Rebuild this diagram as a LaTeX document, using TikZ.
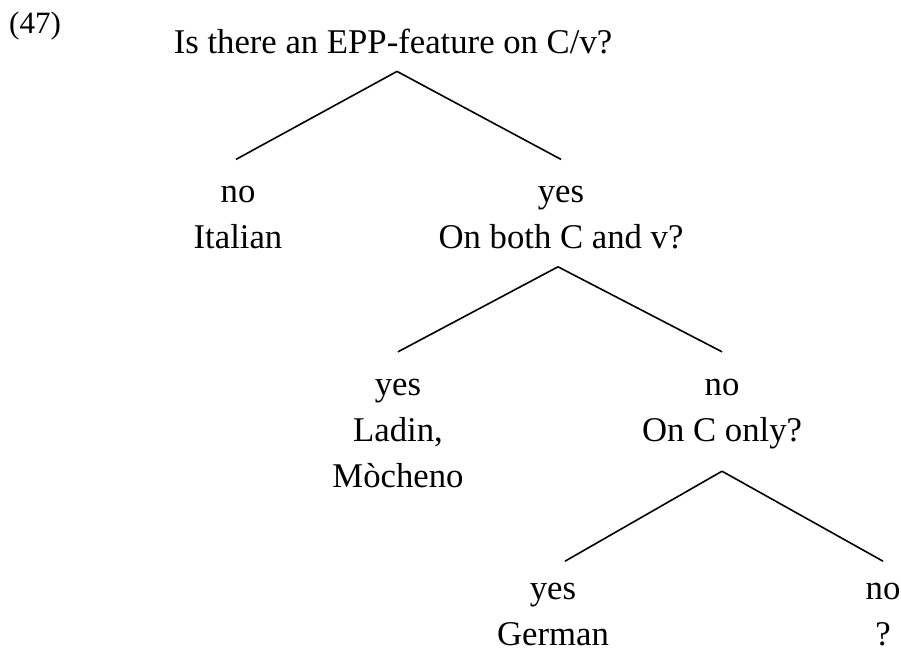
\documentclass[tikz,border=0pt]{standalone}
\usepackage{fontspec}
\setmainfont{Liberation Serif}
\usetikzlibrary{positioning}
\newcommand{\tp}{\rule{0pt}{43pt}}
\tikzset{lbl/.style={inner sep=0pt,align=center,font=\fontsize{34.7}{46}\selectfont}}
\tikzset{ques/.style={lbl,execute at end node={\rule[-18pt]{0pt}{18pt}}}}
\tikzset{branch/.style={line width=1.6pt}}

\begin{document}
\begin{tikzpicture}[x=1pt,y=-1pt]
                \useasboundingbox (0,0) rectangle (901,655);
                \node[anchor=base west,inner sep=0pt,font=\fontsize{31}{37}\selectfont] (num) at (9,34) {(47)};
                \node[ques,anchor=north] (q1) at (393,10) {\tp Is there an EPP-feature on C/v?};
                \node[lbl] (a1) [below=88pt of q1.south,xshift=-155pt] {\tp no\\Italian};
                \node[ques] (q2) [below=88pt of q1.south,xshift=168pt] {\tp yes\\On both C and v?};
                \node[lbl] (a3) [below=85pt of q2.south,xshift=-163pt] {\tp yes\\Ladin,\\Mòcheno};
                \node[ques] (q3) [below=85pt of q2.south,xshift=161pt] {\tp no\\On C only?};
                \node[lbl] (a4) [below=97pt of q3.south,xshift=-169pt] {\tp yes\\German};
                \node[lbl] (a5) [below=97pt of q3.south,xshift=161pt] {\tp no\\?};
            \draw[branch] ([xshift=4pt]q1.south) -- ([xshift=-2pt]a1.north);
            \draw[branch] ([xshift=4pt]q1.south) -- (q2.north);
            \draw[branch] ([xshift=-3pt]q2.south) -- (a3.north);
            \draw[branch] ([xshift=-3pt]q2.south) -- (q3.north);
            \draw[branch] ([yshift=-12pt]q3.south) -- ([xshift=12pt,yshift=-5pt]a4.north);
            \draw[branch] ([yshift=-12pt]q3.south) -- ([yshift=-5pt]a5.north);
\end{tikzpicture}
\end{document}
